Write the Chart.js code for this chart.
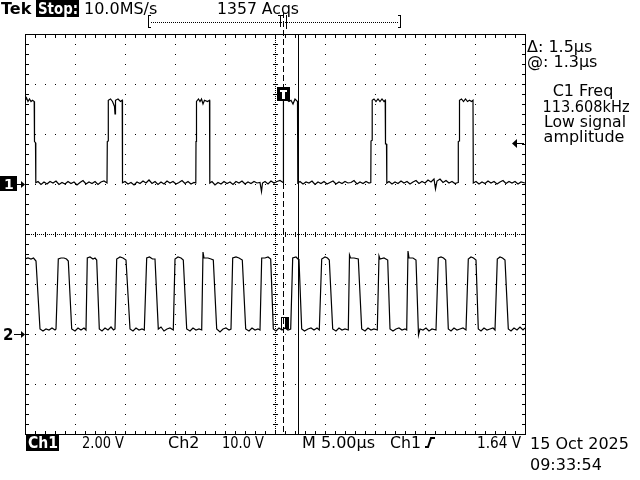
<!DOCTYPE html>
<html>
<head>
<meta charset="utf-8">
<script src="https://cdn.jsdelivr.net/npm/chart.js@4"></script>
<style>
  body { margin: 0; background: #fff; }
  canvas { display: block; }
</style>
</head>
<body>
<canvas id="scope" width="640" height="480"></canvas>
<script>
// time in µs across the 10 divisions (5 µs/div)
const ch1Time = [
  0.0, 0.15, 0.3, 0.45, 0.6, 0.75, 0.92, 0.95, 1.05, 1.08,
  1.3, 1.6, 1.9, 2.2, 2.5, 2.8, 3.1, 3.4, 3.7, 4.0, 4.3, 4.6, 4.9, 5.2, 5.5, 5.8, 6.1, 6.4, 6.7, 7.0, 7.3, 7.6, 7.9, 8.2,
  8.23, 8.3, 8.33, 8.55, 8.75, 8.95, 9.0, 9.05, 9.3, 9.55, 9.72, 9.75,
  10.0, 10.3, 10.6, 10.9, 11.2, 11.5, 11.8, 12.1, 12.4, 12.7, 13.0, 13.3, 13.6, 13.9, 14.2, 14.5, 14.8, 15.1, 15.4, 15.7, 16.0, 16.3, 16.6, 16.9, 17.08,
  17.1, 17.15, 17.35, 17.5, 17.65, 17.8, 17.95, 18.25, 18.45, 18.48,
  18.7, 19.0, 19.3, 19.6, 19.9, 20.2, 20.5, 20.8, 21.1, 21.4, 21.7, 22.0, 22.3, 22.6, 22.9, 23.2, 23.5, 23.65, 23.75, 24.0, 24.3, 24.6, 24.9, 25.2, 25.5, 25.8,
  25.83, 25.86, 26.1, 26.4, 26.6, 26.8, 27.0, 27.25, 27.28,
  27.5, 27.8, 28.1, 28.4, 28.7, 29.0, 29.3, 29.6, 29.9, 30.2, 30.5, 30.8, 31.1, 31.4, 31.7, 32.0, 32.3, 32.6, 32.9, 33.2, 33.5, 33.8, 34.1, 34.4, 34.58,
  34.6, 34.7, 34.72, 34.9, 35.1, 35.3, 35.5, 35.7, 35.9, 36.02, 36.05, 36.15, 36.18,
  36.4, 36.7, 37.0, 37.3, 37.6, 37.9, 38.2, 38.5, 38.8, 39.1, 39.4, 39.7, 40.0, 40.3, 40.6, 40.9, 41.05, 41.2, 41.5, 41.8, 42.1, 42.4, 42.7, 43.0, 43.3,
  43.33, 43.42, 43.45, 43.65, 43.85, 44.05, 44.25, 44.45, 44.65, 44.8, 44.83,
  45.1, 45.4, 45.7, 46.0, 46.3, 46.6, 46.9, 47.2, 47.5, 47.8, 48.1, 48.4, 48.7, 49.0, 49.3, 49.6, 50.0
];
const ch1Volts = [
  3.3, 3.45, 3.3, 3.4, 3.3, 3.35, 3.3, 1.7, 1.65, 0.05,
  0.1, -0.02, 0.08, 0.0, 0.1, 0.04, 0.12, -0.02, 0.06, 0.0, 0.1, 0.02, 0.08, -0.04, 0.06, 0.14, 0.0, 0.08, 0.02, 0.1, -0.02, 0.08, 0.12, 0.04,
  1.7, 1.72, 3.35, 3.4, 3.3, 3.1, 2.8, 3.35, 3.4, 3.3, 3.35, 0.05,
  0.1, 0.0, 0.06, -0.04, 0.08, 0.02, 0.12, 0.04, 0.16, 0.02, 0.1, -0.02, 0.08, 0.0, 0.12, 0.04, 0.1, 0.0, 0.06, 0.14, 0.02, 0.1, 0.0, 0.06, 0.04,
  1.7, 3.3, 3.4, 3.3, 3.4, 3.2, 3.35, 3.3, 3.35, 0.04,
  0.1, -0.04, 0.06, 0.0, 0.1, 0.02, 0.08, -0.02, 0.1, 0.04, 0.12, 0.0, 0.08, 0.02, 0.1, 0.04, 0.06, -0.3, 0.04, 0.1, 0.0, 0.12, 0.04, 0.1, 0.14, 0.06,
  1.7, 3.35, 3.4, 3.3, 3.35, 3.2, 3.4, 3.3, 0.04,
  0.1, 0.0, 0.08, 0.04, 0.12, -0.02, 0.08, 0.02, 0.1, 0.0, 0.06, 0.12, 0.0, 0.08, 0.02, 0.1, 0.04, 0.06, 0.14, 0.0, 0.08, 0.02, 0.1, 0.04, 0.06,
  1.72, 1.75, 3.35, 3.4, 3.3, 3.4, 3.3, 3.4, 3.3, 3.35, 1.6, 1.6, 0.04,
  0.1, 0.0, 0.08, 0.02, 0.12, 0.04, 0.1, 0.0, 0.08, 0.14, 0.02, 0.1, 0.04, 0.16, 0.08, 0.2, -0.2, 0.12, 0.2, 0.06, 0.14, 0.04, 0.1, 0.02, 0.06,
  1.7, 1.72, 3.35, 3.4, 3.3, 3.4, 3.3, 3.35, 3.3, 3.35, 0.04,
  0.1, 0.0, 0.08, 0.02, 0.12, 0.04, 0.1, 0.0, 0.08, 0.14, 0.02, 0.1, 0.04, 0.1, 0.0, 0.08, 0.04
];

const ch2Time = [
  0.0, 0.3, 0.6, 0.85, 1.1, 1.5, 1.8, 2.1, 2.4, 2.7, 3.0,
  3.1, 3.33, 3.6, 3.9, 4.15, 4.33, 4.67, 5.0, 5.3, 5.6, 5.9,
  6.1, 6.23, 6.5, 6.8, 7.0, 7.17, 7.43, 7.7, 8.0, 8.3, 8.6, 8.85,
  9.0, 9.17, 9.5, 9.8, 10.1, 10.5, 10.8, 11.1, 11.4, 11.7,
  11.93, 12.17, 12.45, 12.75, 13.0, 13.33, 13.6, 13.9, 14.2, 14.5,
  14.83, 15.0, 15.3, 15.6, 15.83, 16.17, 16.5, 16.8, 17.1, 17.4,
  17.67, 17.8, 17.9, 18.3, 18.6, 18.83, 19.17, 19.5, 19.8, 20.1, 20.4,
  20.6, 20.77, 21.1, 21.4, 21.73, 22.07, 22.4, 22.7, 23.0, 23.3,
  23.5, 23.67, 24.0, 24.3, 24.57, 24.83, 25.1, 25.4, 25.7, 26.0, 26.3,
  26.57, 26.77, 27.1, 27.3, 27.4, 27.67, 27.95, 28.3, 28.6, 28.9, 29.2,
  29.43, 29.67, 30.0, 30.25, 30.43, 30.77, 31.1, 31.4, 31.7, 32.0,
  32.33, 32.45, 32.55, 32.9, 33.33, 33.67, 34.0, 34.3, 34.6, 34.9,
  35.23, 35.4, 35.5, 35.9, 36.27, 36.5, 36.8, 37.1, 37.4, 37.7, 38.0,
  38.17, 38.3, 38.4, 38.8, 39.1, 39.35, 39.5, 39.8, 40.1, 40.4, 40.7,
  41.1, 41.33, 41.6, 41.85, 42.07, 42.33, 42.6, 42.9, 43.2, 43.5, 43.8,
  44.1, 44.33, 44.6, 44.85, 45.1, 45.33, 45.6, 45.9, 46.2, 46.5, 46.8,
  47.0, 47.23, 47.5, 47.75, 48.0, 48.33, 48.6, 48.9, 49.2, 49.5, 49.8, 50.0
];
const ch2Volts = [
  15.0, 15.2, 15.0, 15.2, 14.6, 1.0, 0.6, 1.0, 0.8, 1.2, 0.8,
  1.0, 15.0, 15.2, 15.2, 15.0, 14.6, 1.0, 0.6, 1.2, 0.8, 1.2,
  0.8, 15.2, 15.4, 15.0, 15.2, 14.8, 1.0, 0.6, 1.2, 0.8, 1.4, 0.8,
  1.0, 15.0, 15.4, 15.2, 14.8, 1.0, 0.6, 1.2, 0.8, 1.0,
  0.8, 15.2, 15.4, 15.0, 15.0, 1.0, 1.4, 0.6, 1.0, 1.2,
  0.8, 15.0, 15.4, 15.2, 14.8, 1.0, 0.6, 1.2, 0.8, 1.0,
  0.8, 16.4, 15.2, 15.2, 15.0, 14.8, 1.0, 0.4, 1.0, 1.2, 0.8,
  1.0, 15.2, 15.4, 15.2, 14.8, 1.0, 0.6, 1.2, 0.8, 1.0,
  0.8, 15.2, 15.2, 15.4, 15.0, 1.0, 0.6, 1.2, 0.8, 1.2, 0.8,
  1.0, 15.2, 15.4, 15.0, 14.8, 1.0, 0.6, 1.0, 1.2, 0.8, 1.2,
  0.8, 15.0, 15.4, 15.2, 14.8, 1.0, 0.6, 1.2, 0.8, 1.0,
  0.8, 15.8, 15.2, 15.2, 15.0, 1.0, 0.6, 1.2, 0.8, 1.0,
  0.8, 15.6, 15.0, 15.2, 14.8, 1.0, 0.6, 1.0, 1.2, 0.8, 1.0,
  0.8, 16.6, 15.2, 15.2, 14.8, -0.2, 1.0, 0.8, 1.2, 0.6, 1.0,
  0.8, 15.2, 15.4, 15.2, 14.8, 1.0, 0.6, 1.2, 0.8, 1.0, 1.2,
  0.8, 15.0, 15.4, 15.2, 14.8, 1.0, 0.6, 1.2, 0.8, 1.0, 1.2,
  0.8, 15.0, 15.4, 15.2, 14.8, 1.0, 0.6, 1.2, 0.8, 1.4, 0.8, 1.2
];

// graticule divisions
const timeDivs = [0, 5, 10, 15, 20, 25, 30, 35, 40, 45, 50];
const ch1Divs = [6, 4, 2, 0, -2, -4, -6, -8, -10];

// cursors (µs)
const cursorA = 25.8;
const cursorB = 27.3;

const headerTexts = ["Tek", "Stop:", "10.0MS/s", "1357 Acqs"];
const sideTexts = ["\u0394: 1.5\u00b5s", "@: 1.3\u00b5s", "C1 Freq", "113.608kHz", "Low signal", "amplitude"];
const footerTexts = ["Ch1", "2.00 V", "Ch2", "10.0 V", "M 5.00\u00b5s", "Ch1", "1.64 V", "15 Oct 2025", "09:33:54"];

const FONT = "'DejaVu Sans', sans-serif";

function txt(ctx, s, x, y, size, opts = {}) {
  ctx.save();
  ctx.font = (opts.bold ? "bold " : "") + size + "px " + FONT;
  ctx.fillStyle = opts.color || "#000";
  ctx.textAlign = opts.align || "left";
  ctx.textBaseline = "alphabetic";
  if (opts.max) ctx.fillText(s, x, y, opts.max);
  else ctx.fillText(s, x, y);
  ctx.restore();
}

const graticule = {
  id: "graticule",
  beforeDatasetsDraw(chart) {
    const { ctx, chartArea: a, scales } = chart;
    const L = Math.round(a.left), R = Math.round(a.right), T = Math.round(a.top), B = Math.round(a.bottom);
    const cx = Math.round(scales.x.getPixelForValue(25));
    const cy = Math.round(scales.y1.getPixelForValue(-2));
    ctx.save();
    ctx.fillStyle = "#000";
    // dotted grid lines
    timeDivs.forEach(t => {
      const x = Math.round(scales.x.getPixelForValue(t));
      if (x <= L || x >= R) return;
      if (x === cx) {
        for (let y = T; y < B; y += 2) ctx.fillRect(x, y, 1, 1);
        for (let y = T + 10; y < B; y += 10) ctx.fillRect(x - 2, y, 5, 1);
      } else {
        for (let y = T + 10; y < B; y += 10) ctx.fillRect(x, y, 1, 1);
      }
    });
    ch1Divs.forEach(v => {
      const y = Math.round(scales.y1.getPixelForValue(v));
      if (y <= T || y >= B) return;
      if (y === cy) {
        for (let x = L; x < R; x += 2) ctx.fillRect(x, y, 1, 1);
        for (let x = L + 10; x < R; x += 10) ctx.fillRect(x, y - 2, 1, 5);
      } else {
        for (let x = L + 10; x < R; x += 10) ctx.fillRect(x, y, 1, 1);
      }
    });
    // border with ticks
    ctx.fillRect(L, T, R - L + 1, 1);
    ctx.fillRect(L, B, R - L + 1, 1);
    ctx.fillRect(L, T, 1, B - T + 1);
    ctx.fillRect(R, T, 1, B - T + 1);
    for (let x = L + 10; x < R; x += 10) {
      ctx.fillRect(x, T + 1, 1, 3);
      ctx.fillRect(x, B - 3, 1, 3);
    }
    for (let y = T + 10; y < B; y += 10) {
      ctx.fillRect(L + 1, y, 3, 1);
      ctx.fillRect(R - 3, y, 3, 1);
    }
    ctx.restore();
  },
  afterDraw(chart) {
    const { ctx, chartArea: a, scales } = chart;
    const T = Math.round(a.top), B = Math.round(a.bottom);
    ctx.save();
    ctx.fillStyle = "#000";
    ctx.strokeStyle = "#000";
    ctx.lineWidth = 1;

    // cursors
    const xa = Math.round(scales.x.getPixelForValue(cursorA)) + 0.5;
    const xb = Math.round(scales.x.getPixelForValue(cursorB)) + 0.5;
    ctx.setLineDash([6, 3]);
    ctx.beginPath(); ctx.moveTo(xa, 12); ctx.lineTo(xa, B); ctx.stroke();
    ctx.setLineDash([]);
    ctx.beginPath(); ctx.moveTo(xb, T); ctx.lineTo(xb, B); ctx.stroke();

    // header
    txt(ctx, headerTexts[0], 1, 14, 16, { bold: true });
    ctx.fillRect(36, 0, 43, 17);
    txt(ctx, headerTexts[1], 38, 14, 16, { bold: true, color: "#fff", max: 40 });
    txt(ctx, headerTexts[2], 84, 14, 16, { max: 77 });
    txt(ctx, headerTexts[3], 217, 14, 16, { max: 82 });

    // record bar
    for (let x = 151; x < 399; x += 2) ctx.fillRect(x, 22, 1, 1);
    ctx.fillRect(148, 15, 1, 13); ctx.fillRect(148, 15, 3, 1); ctx.fillRect(148, 27, 3, 1);
    ctx.fillRect(400, 15, 1, 13); ctx.fillRect(398, 15, 3, 1); ctx.fillRect(398, 27, 3, 1);
    ctx.fillRect(278, 15, 5, 1); ctx.fillRect(280, 15, 1, 12);
    ctx.fillRect(286, 15, 1, 14);

    // side panel
    txt(ctx, sideTexts[0], 527, 52, 16, { max: 74 });
    txt(ctx, sideTexts[1], 527, 67, 16, { max: 74 });
    txt(ctx, sideTexts[2], 583, 96, 16, { align: "center", max: 62 });
    txt(ctx, sideTexts[3], 586, 112, 16, { align: "center", max: 87 });
    txt(ctx, sideTexts[4], 585, 127, 16, { align: "center", max: 82 });
    txt(ctx, sideTexts[5], 584, 142, 16, { align: "center", max: 82 });

    // footer
    ctx.fillRect(26, 435, 33, 16);
    txt(ctx, footerTexts[0], 28, 448, 15, { color: "#fff", bold: true, max: 30 });
    txt(ctx, footerTexts[1], 82, 448, 16, { max: 42 });
    txt(ctx, footerTexts[2], 168, 448, 16, { max: 32 });
    txt(ctx, footerTexts[3], 222, 448, 16, { max: 42 });
    txt(ctx, footerTexts[4], 302, 448, 16, { max: 74 });
    txt(ctx, footerTexts[5], 390, 448, 16, { max: 31 });
    txt(ctx, footerTexts[6], 477, 448, 16, { max: 44 });
    txt(ctx, footerTexts[7], 530, 449, 16, { max: 99 });
    txt(ctx, footerTexts[8], 530, 470, 16, { max: 72 });
    ctx.lineWidth = 2;
    ctx.beginPath();
    ctx.moveTo(425, 447); ctx.lineTo(428, 447); ctx.lineTo(431, 438); ctx.lineTo(435, 438);
    ctx.stroke();
    ctx.lineWidth = 1;

    // channel ground markers
    const g1 = Math.round(scales.y1.getPixelForValue(0));
    const g2 = Math.round(scales.y2.getPixelForValue(0));
    ctx.fillRect(0, g1 - 8, 17, 15);
    txt(ctx, "1", 4, g1 + 5, 14, { bold: true, color: "#fff" });
    ctx.fillRect(17, g1, 6, 1);
    ctx.beginPath(); ctx.moveTo(25, g1 + 0.5); ctx.lineTo(21, g1 - 3); ctx.lineTo(21, g1 + 4); ctx.closePath(); ctx.fill();
    txt(ctx, "2", 3, g2 + 6, 15, { bold: true });
    ctx.fillRect(14, g2, 9, 1);
    ctx.beginPath(); ctx.moveTo(25, g2 + 0.5); ctx.lineTo(21, g2 - 3); ctx.lineTo(21, g2 + 4); ctx.closePath(); ctx.fill();

    // trigger level arrow (1.64 V on Ch1)
    const tl = Math.round(scales.y1.getPixelForValue(1.64));
    ctx.fillRect(515, tl, 9, 1);
    ctx.beginPath(); ctx.moveTo(512, tl + 0.5); ctx.lineTo(517, tl - 4); ctx.lineTo(517, tl + 5); ctx.closePath(); ctx.fill();

    // trigger markers on traces
    const xt = Math.round(scales.x.getPixelForValue(cursorA));
    const yt = Math.round(scales.y1.getPixelForValue(3.35));
    ctx.fillRect(xt - 6, yt - 13, 13, 14);
    ctx.fillStyle = "#fff";
    ctx.fillRect(xt - 3, yt - 10, 7, 2);
    ctx.fillRect(xt - 1, yt - 10, 3, 9);
    ctx.fillStyle = "#000";
    const y2t = Math.round(scales.y2.getPixelForValue(1.0));
    ctx.fillRect(xt - 2, y2t - 12, 8, 1);
    ctx.fillRect(xt - 2, y2t - 12, 1, 12);
    ctx.fillRect(xt + 2, y2t - 12, 4, 12);
    ctx.restore();
  }
};

const ctx = document.getElementById("scope");
new Chart(ctx, {
  type: "line",
  data: {
    datasets: [
      {
        label: "Ch1",
        data: ch1Time.map((t, i) => ({ x: t, y: ch1Volts[i] })),
        yAxisID: "y1",
        borderColor: "#000",
        borderWidth: 1.2,
        pointRadius: 0,
        tension: 0
      },
      {
        label: "Ch2",
        data: ch2Time.map((t, i) => ({ x: t, y: ch2Volts[i] })),
        yAxisID: "y2",
        borderColor: "#000",
        borderWidth: 1.2,
        pointRadius: 0,
        tension: 0
      }
    ]
  },
  options: {
    responsive: false,
    animation: false,
    devicePixelRatio: 1,
    layout: { padding: { left: 25, top: 34, right: 115, bottom: 46 } },
    plugins: {
      legend: { display: false },
      tooltip: { enabled: false }
    },
    scales: {
      x: { type: "linear", min: 0, max: 50, display: false },
      y1: { type: "linear", min: -10, max: 6, display: false },
      y2: { type: "linear", min: -20, max: 60, display: false }
    }
  },
  plugins: [graticule]
});
</script>
</body>
</html>
